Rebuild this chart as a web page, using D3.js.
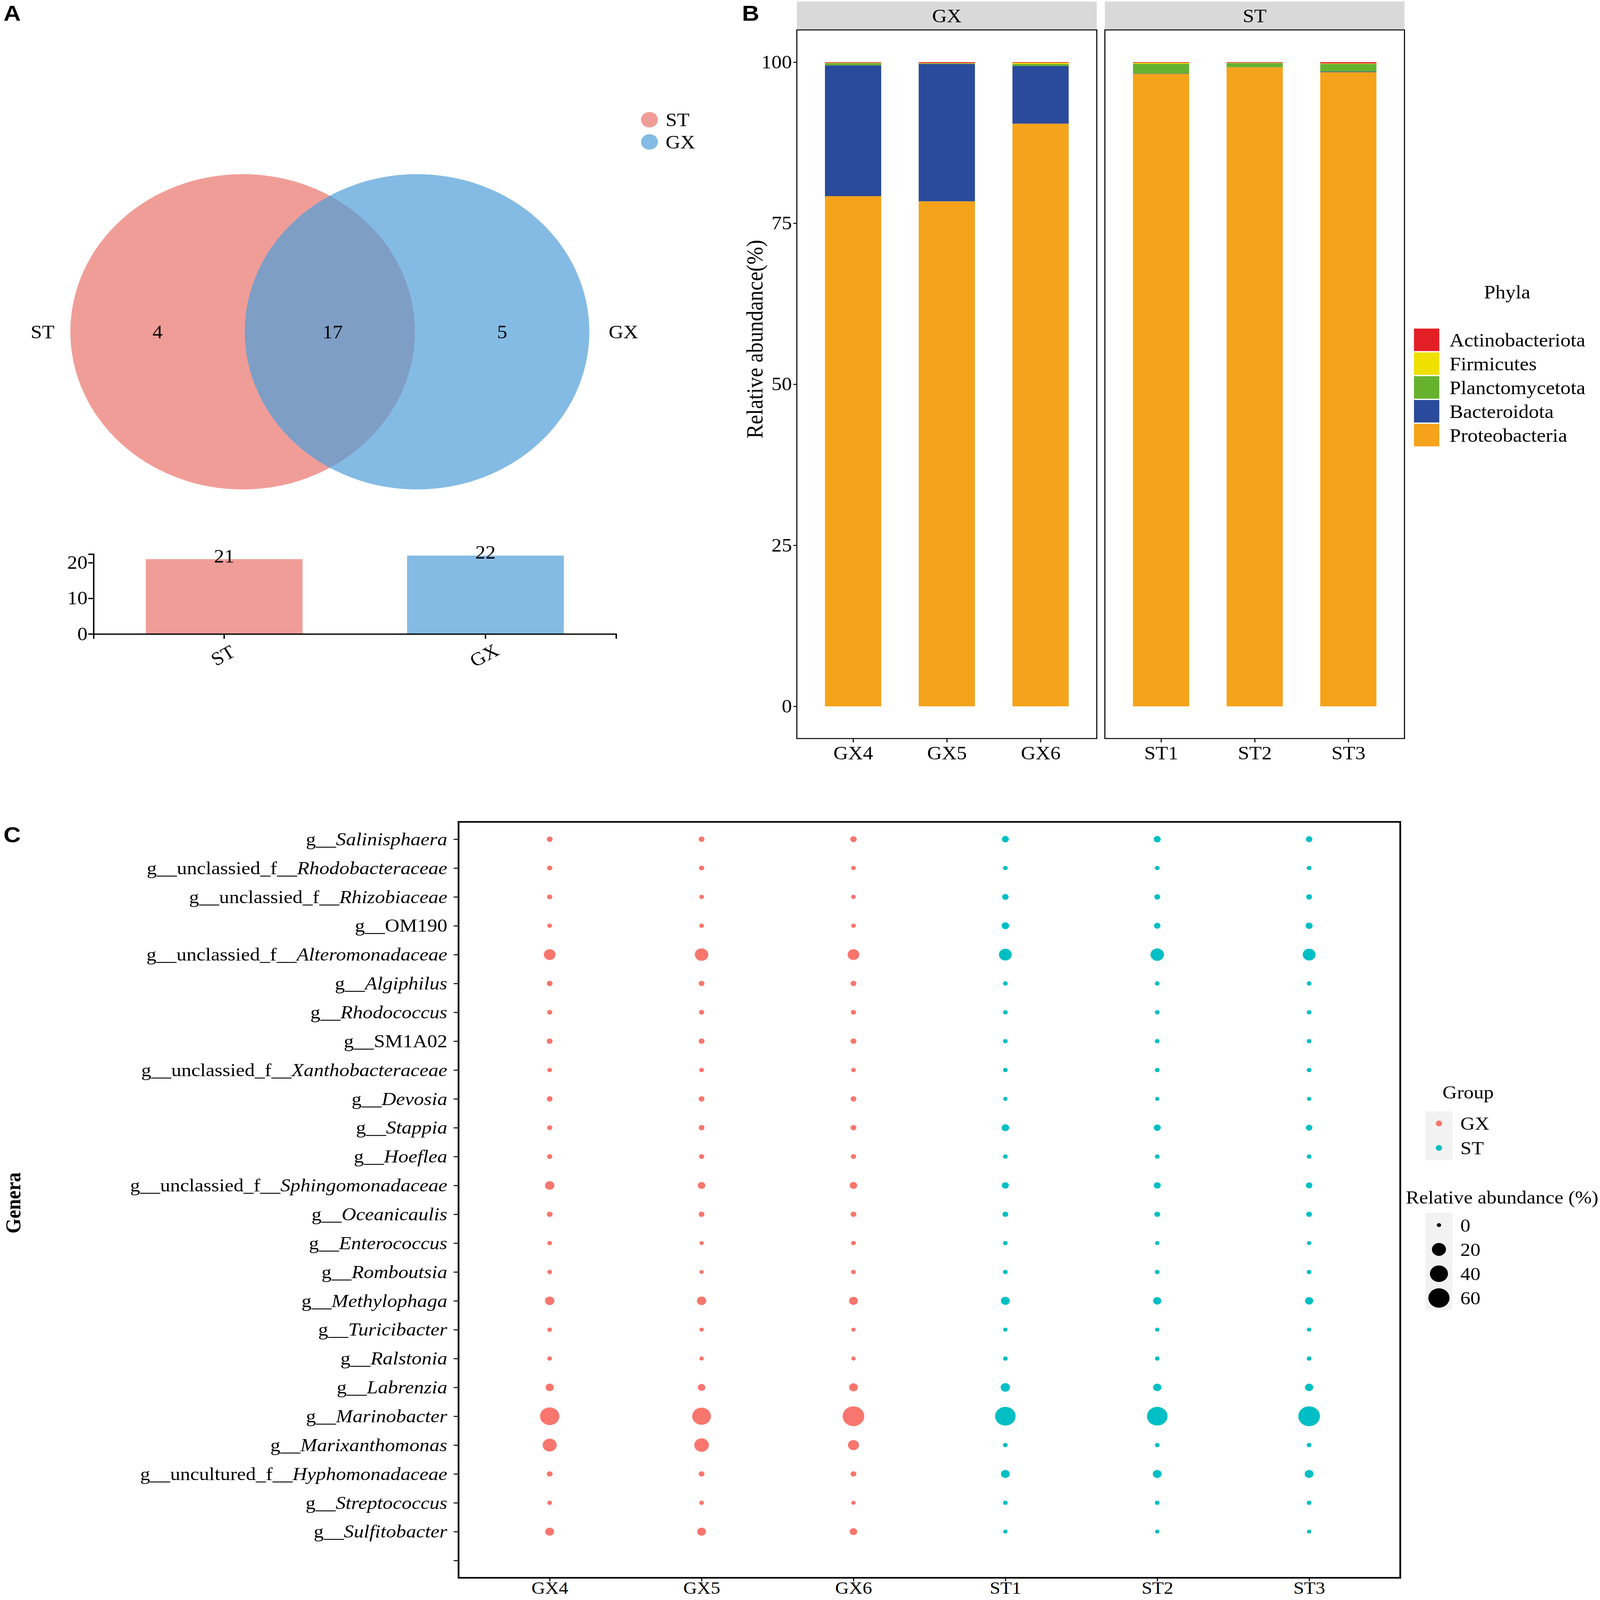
<!DOCTYPE html>
<meta charset="utf-8">
<title>Venn, phyla and genera</title>
<style>
html, body { margin: 0; padding: 0; background: #fff; overflow: hidden; }
svg { display: block; width: 100vw; height: 100vh; font-family: "Liberation Serif", "Times New Roman", serif; }
</style>
<body>
<svg id="fig" viewBox="0 0 4550 4972" preserveAspectRatio="none"></svg>
<script src="https://cdn.jsdelivr.net/npm/d3@7"></script>
<script>

// ---- data ----
// panel A
var vennSets = ["ST", "GX"];
var vennCounts = [4, 17, 5];          // ST only, shared, GX only
var setTotals = [21, 22];
var barTicksA = [0, 10, 20];

// panel B (stacked relative abundance of phyla)
var samples = ["GX4", "GX5", "GX6", "ST1", "ST2", "ST3"];
var sampleGroup = ["GX", "GX", "GX", "ST", "ST", "ST"];
var phylaStack = ["Proteobacteria", "Bacteroidota", "Planctomycetota", "Firmicutes", "Actinobacteriota"];
var proteobacteria = [79.2, 78.4, 90.45, 98.2, 99.2, 98.44];
var bacteroidota = [20.3, 21.3, 8.95, 0.05, 0.0, 0.1];
var planctomycetota = [0.35, 0.1, 0.3, 1.5, 0.65, 1.2];
var firmicutes = [0.05, 0.05, 0.2, 0.15, 0.05, 0.06];
var actinobacteriota = [0.1, 0.15, 0.1, 0.1, 0.1, 0.2];
var ticksB = [0, 25, 50, 75, 100];

// panel C (genera bubbles)
var genera = ["g__Salinisphaera", "g__unclassied_f__Rhodobacteraceae", "g__unclassied_f__Rhizobiaceae",
  "g__OM190", "g__unclassied_f__Alteromonadaceae", "g__Algiphilus", "g__Rhodococcus", "g__SM1A02",
  "g__unclassied_f__Xanthobacteraceae", "g__Devosia", "g__Stappia", "g__Hoeflea",
  "g__unclassied_f__Sphingomonadaceae", "g__Oceanicaulis", "g__Enterococcus", "g__Romboutsia",
  "g__Methylophaga", "g__Turicibacter", "g__Ralstonia", "g__Labrenzia", "g__Marinobacter",
  "g__Marixanthomonas", "g__uncultured_f__Hyphomonadaceae", "g__Streptococcus", "g__Sulfitobacter"];
var notItalic = ["OM190", "SM1A02"];
var abGX4 = [0.46, 0.18, 0.18, 0.03, 11.5, 0.46, 0.18, 0.46, 0.03, 0.46, 0.18, 0.18, 5.3, 0.46, 0.03, 0.03, 5.3, 0.03, 0.03, 3.2, 47.5, 20, 0.46, 0.03, 4.2];
var abGX5 = [0.46, 0.18, 0.03, 0.03, 17.7, 0.46, 0.18, 0.46, 0.03, 0.46, 0.46, 0.18, 2.2, 0.46, 0, 0, 5.3, 0, 0, 2.2, 44, 22.3, 0.46, 0.03, 4.2];
var abGX6 = [0.94, 0.03, 0.03, 0.03, 11.5, 0.46, 0.18, 0.46, 0.03, 0.46, 0.46, 0.18, 2.2, 0.46, 0.03, 0.03, 4.2, 0, 0, 4.2, 63.4, 9.6, 0.46, 0, 2.2];
var abST1 = [1.5, 0.03, 0.94, 2.2, 15.3, 0.03, 0.03, 0.03, 0.03, 0, 2.2, 0.03, 1.5, 0.46, 0.03, 0.03, 4.2, 0, 0.03, 5.3, 55.4, 0.03, 4.2, 0.03, 0];
var abST2 = [1.5, 0.03, 0.46, 0.94, 17.7, 0.03, 0.03, 0.03, 0.03, 0, 1.5, 0.03, 1.5, 0.46, 0, 0.03, 3.2, 0, 0.03, 3.2, 55.4, 0.03, 4.2, 0.03, 0];
var abST3 = [0.94, 0.03, 0.46, 1.5, 15.3, 0.03, 0.03, 0.03, 0.03, 0, 0.94, 0.03, 0.94, 0.46, 0, 0.03, 3.2, 0, 0.03, 3.2, 63.4, 0.03, 4.2, 0.03, 0];
var sizeBreaks = [0, 20, 40, 60];

// ---- colours ----
var vennColor = {ST: "#F19D97", GX: "#84BBE4"};
var vennOverlap = "#7F9EC6";
var phylaColor = {Actinobacteriota: "#E31F26", Firmicutes: "#EFE000", Planctomycetota: "#66B22F",
                  Bacteroidota: "#2A4A9B", Proteobacteria: "#F5A31A"};
var groupColor = {GX: "#F8766D", ST: "#00BFC4"};

var svg = d3.select("#fig");
var FS = 58;

function styleAxis(g, sw) {
  g.attr("font-family", "Liberation Serif").attr("font-size", FS);
  g.selectAll("line,path").attr("stroke", "#000").attr("stroke-width", sw);
  g.selectAll("text").attr("fill", "#000");
}

// panel letters
[["A", 10, 64], ["B", 2110, 64], ["C", 10, 2617]].forEach(function(l) {
  svg.append("text").attr("x", l[1]).attr("y", l[2]).text(l[0])
    .attr("font-family", "Liberation Sans").attr("font-weight", "bold").attr("font-size", 68);
});

// ================= Panel A =================
var vennCx = [690, 1186], vennCy = 1031, vennR = 490;
var gA = svg.append("g");
gA.append("clipPath").attr("id", "clipST")
  .append("circle").attr("cx", vennCx[0]).attr("cy", vennCy).attr("r", vennR);
gA.selectAll("circle.set").data(vennSets).join("circle").attr("class", "set")
  .attr("cx", function(d, i) { return vennCx[i]; }).attr("cy", vennCy).attr("r", vennR)
  .attr("fill", function(d) { return vennColor[d]; });
gA.append("circle").attr("cx", vennCx[1]).attr("cy", vennCy).attr("r", vennR)
  .attr("clip-path", "url(#clipST)").attr("fill", vennOverlap);

var countX = [(vennCx[0] + vennCx[1]) / 2 - vennR, (vennCx[0] + vennCx[1]) / 2 + 8, (vennCx[0] + vennCx[1]) / 2 + vennR];
gA.selectAll("text.count").data(vennCounts).join("text").attr("class", "count")
  .attr("x", function(d, i) { return countX[i]; }).attr("y", vennCy).attr("dy", "0.35em")
  .attr("text-anchor", "middle").attr("font-size", FS).text(function(d) { return d; });
gA.append("text").attr("x", vennCx[0] - vennR - 45).attr("y", vennCy).attr("dy", "0.35em")
  .attr("text-anchor", "end").attr("font-size", FS).text(vennSets[0]);
gA.append("text").attr("x", vennCx[1] + vennR + 55).attr("y", vennCy).attr("dy", "0.35em")
  .attr("text-anchor", "start").attr("font-size", FS).text(vennSets[1]);

// legend
var legA = gA.selectAll("g.leg").data(vennSets).join("g").attr("class", "leg")
  .attr("transform", function(d, i) { return "translate(1847," + (372 + i * 69) + ")"; });
legA.append("circle").attr("r", 24).attr("fill", function(d) { return vennColor[d]; });
legA.append("text").attr("x", 46).attr("dy", "0.35em").attr("font-size", FS).text(function(d) { return d; });

// set size bars
var xA = d3.scaleBand().domain(vennSets).range([266, 1752]).paddingInner(0.4).paddingOuter(0.2);
var yA = d3.scaleLinear().domain([0, 22.4]).range([1970, 1722]);
gA.selectAll("rect.tot").data(setTotals).join("rect").attr("class", "tot")
  .attr("x", function(d, i) { return xA(vennSets[i]); }).attr("width", xA.bandwidth())
  .attr("y", function(d) { return yA(d); }).attr("height", function(d) { return yA(0) - yA(d); })
  .attr("fill", function(d, i) { return vennColor[vennSets[i]]; });
gA.selectAll("text.tot").data(setTotals).join("text").attr("class", "tot")
  .attr("x", function(d, i) { return xA(vennSets[i]) + xA.bandwidth() / 2; })
  .attr("y", function(d) { return yA(d) + 10; })
  .attr("text-anchor", "middle").attr("font-size", FS).text(function(d) { return d; });

var axA = gA.append("g").attr("transform", "translate(266,0)")
  .call(d3.axisLeft(yA).tickValues(barTicksA).tickSize(15).tickPadding(2));
styleAxis(axA, 4);
var axAx = gA.append("g").attr("transform", "translate(0,1970)")
  .call(d3.axisBottom(xA).tickSize(15));
styleAxis(axAx, 4);
axAx.selectAll(".tick text").attr("y", 0).attr("dy", "0.35em").attr("text-anchor", "middle")
  .attr("transform", "translate(-4,66) rotate(-30)");

// ================= Panel B =================
var gB = svg.append("g");
var facets = ["GX", "ST"];
var facetRange = {GX: [2266, 3119], ST: [3142, 3994]};
var stripTop = 5, panelTop = 93, panelBottom = 2295;
var yB = d3.scaleLinear().domain([-5, 105]).range([panelBottom, panelTop]);

var phylaTable = samples.map(function(s, i) {
  return {sample: s, group: sampleGroup[i], Proteobacteria: proteobacteria[i], Bacteroidota: bacteroidota[i],
    Planctomycetota: planctomycetota[i], Firmicutes: firmicutes[i], Actinobacteriota: actinobacteriota[i]};
});
var stacked = d3.stack().keys(phylaStack)(phylaTable);

facets.forEach(function(f) {
  var r = facetRange[f];
  var cols = samples.filter(function(s, i) { return sampleGroup[i] === f; });
  var xB = d3.scalePoint().domain(cols).range(r).padding(0.6);
  var bw = xB.step() * 0.6;

  gB.append("rect").attr("x", r[0]).attr("y", stripTop).attr("width", r[1] - r[0])
    .attr("height", panelTop - stripTop).attr("fill", "#D9D9D9");
  gB.append("text").attr("x", (r[0] + r[1]) / 2).attr("y", (stripTop + panelTop) / 2).attr("dy", "0.35em")
    .attr("text-anchor", "middle").attr("font-size", FS).text(f);

  stacked.forEach(function(layer) {
    gB.append("g").attr("fill", phylaColor[layer.key])
      .selectAll("rect").data(layer.filter(function(d) { return d.data.group === f; })).join("rect")
      .attr("x", function(d) { return xB(d.data.sample) - bw / 2; }).attr("width", bw)
      .attr("y", function(d) { return yB(d[1]); })
      .attr("height", function(d) { return Math.max(0, yB(d[0]) - yB(d[1])); });
  });

  gB.append("rect").attr("x", r[0]).attr("y", panelTop).attr("width", r[1] - r[0])
    .attr("height", panelBottom - panelTop).attr("fill", "none").attr("stroke", "#000").attr("stroke-width", 3);

  var ax = gB.append("g").attr("transform", "translate(0," + panelBottom + ")")
    .call(d3.axisBottom(xB).tickSize(12).tickPadding(12));
  styleAxis(ax, 3);
  ax.select(".domain").remove();
});

var axBy = gB.append("g").attr("transform", "translate(" + facetRange.GX[0] + ",0)")
  .call(d3.axisLeft(yB).tickValues(ticksB).tickSize(10).tickPadding(4));
styleAxis(axBy, 3);
axBy.select(".domain").remove();

gB.append("text").attr("transform", "translate(2168,1054) rotate(-90)")
  .attr("text-anchor", "middle").attr("font-size", 66).text("Relative abundance(%)");

// phyla legend
gB.append("text").attr("x", 4286).attr("y", 907).attr("dy", "0.35em").attr("text-anchor", "middle")
  .attr("font-size", FS).text("Phyla");
var legOrder = phylaStack.slice().reverse();
var legB = gB.selectAll("g.legB").data(legOrder).join("g").attr("class", "legB")
  .attr("transform", function(d, i) { return "translate(4021," + (1021 + i * 74) + ")"; });
legB.append("rect").attr("width", 72).attr("height", 70).attr("fill", function(d) { return phylaColor[d]; });
legB.append("text").attr("x", 101).attr("y", 35).attr("dy", "0.35em").attr("font-size", FS)
  .text(function(d) { return d; });

// ================= Panel C =================
var gC = svg.append("g");
var boxC = {x0: 1304, x1: 3982, y0: 2554, y1: 4903};
var rows = genera.concat([""]);
var xC = d3.scalePoint().domain(samples).range([boxC.x0, boxC.x1]).padding(0.6);
var yC = d3.scalePoint().domain(rows).range([boxC.y0, boxC.y1]).padding(0.6);
var rC = d3.scaleSqrt().domain([0, 60]).range([6.2, 30.1]);

var sampleValues = [abGX4, abGX5, abGX6, abST1, abST2, abST3];
var bubbles = [];
samples.forEach(function(s, j) {
  genera.forEach(function(g, i) {
    bubbles.push({sample: s, group: sampleGroup[j], genus: g, value: sampleValues[j][i]});
  });
});

gC.append("g").selectAll("circle").data(bubbles).join("circle")
  .attr("cx", function(d) { return xC(d.sample); })
  .attr("cy", function(d) { return yC(d.genus); })
  .attr("r", function(d) { return rC(d.value); })
  .attr("fill", function(d) { return groupColor[d.group]; });

gC.append("rect").attr("x", boxC.x0).attr("y", boxC.y0).attr("width", boxC.x1 - boxC.x0)
  .attr("height", boxC.y1 - boxC.y0).attr("fill", "none").attr("stroke", "#000").attr("stroke-width", 5);

var axCy = gC.append("g").attr("transform", "translate(" + boxC.x0 + ",0)")
  .call(d3.axisLeft(yC).tickSize(14).tickPadding(18));
styleAxis(axCy, 3);
axCy.select(".domain").remove();
axCy.selectAll(".tick text").each(function(d) {
  var t = d3.select(this).text("");
  if (!d) return;
  var k = d.lastIndexOf("__");
  var name = d.slice(k + 2);
  t.append("tspan").text(d.slice(0, k + 2));
  t.append("tspan").attr("font-style", notItalic.indexOf(name) >= 0 ? "normal" : "italic").text(name);
}).attr("font-size", 57);

var axCx = gC.append("g").attr("transform", "translate(0," + boxC.y1 + ")")
  .call(d3.axisBottom(xC).tickSize(11).tickPadding(0));
styleAxis(axCx, 3);
axCx.select(".domain").remove();
axCx.selectAll(".tick text").attr("font-size", 54);

gC.append("text").attr("transform", "translate(58,3738) rotate(-90)").attr("text-anchor", "middle")
  .attr("font-weight", "bold").attr("font-size", 60).text("Genera");

// group legend
var groups = ["GX", "ST"];
gC.append("text").attr("x", 4175).attr("y", 3393).attr("dy", "0.35em").attr("text-anchor", "middle")
  .attr("font-size", 57).text("Group");
gC.append("rect").attr("x", 4054).attr("y", 3453).attr("width", 76).attr("height", 152).attr("fill", "#F2F2F2");
var legG = gC.selectAll("g.legG").data(groups).join("g").attr("class", "legG")
  .attr("transform", function(d, i) { return "translate(4092," + (3491 + i * 76) + ")"; });
legG.append("circle").attr("r", 9).attr("fill", function(d) { return groupColor[d]; });
legG.append("text").attr("x", 61).attr("dy", "0.35em").attr("font-size", 57).text(function(d) { return d; });

// size legend
gC.append("text").attr("x", 3998).attr("y", 3720).attr("dy", "0.35em").attr("font-size", 57)
  .text("Relative abundance (%)");
gC.append("rect").attr("x", 4054).attr("y", 3769).attr("width", 76).attr("height", 302).attr("fill", "#F2F2F2");
var legS = gC.selectAll("g.legS").data(sizeBreaks).join("g").attr("class", "legS")
  .attr("transform", function(d, i) { return "translate(4092," + (3807 + i * 75.5) + ")"; });
legS.append("circle").attr("r", function(d) { return rC(d); }).attr("fill", "#000");
legS.append("text").attr("x", 61).attr("dy", "0.35em").attr("font-size", 57).text(function(d) { return d; });

</script>
</body>
